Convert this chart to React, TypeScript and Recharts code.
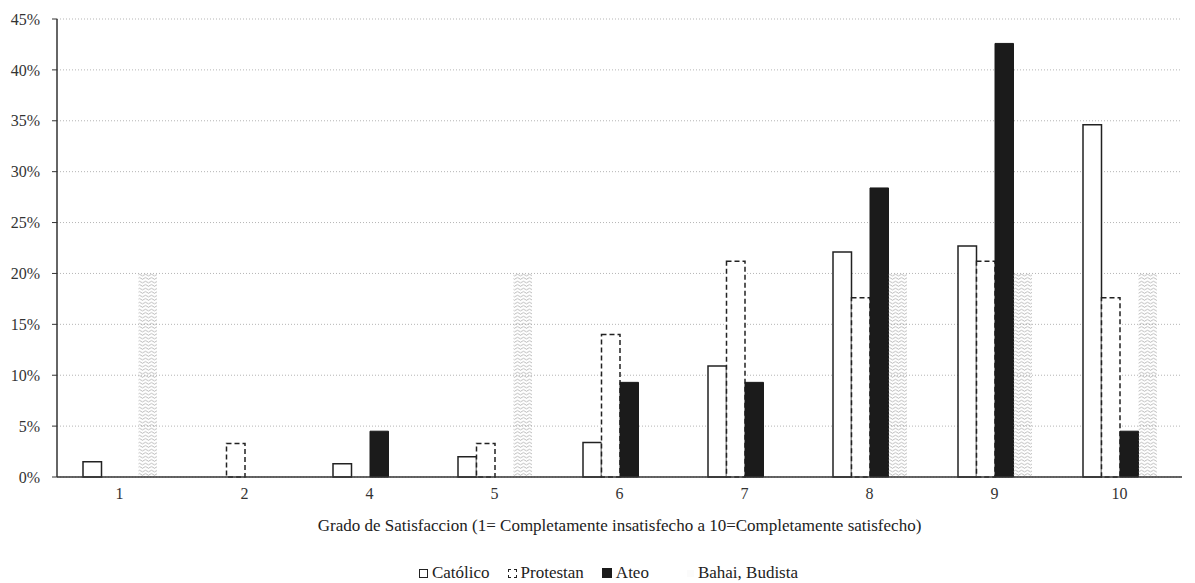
import { BarChart, Bar, XAxis, YAxis, CartesianGrid, Label } from "recharts";

const grados = ["1", "2", "4", "5", "6", "7", "8", "9", "10"];
const catolico = [1.5, 0, 1.3, 2.0, 3.4, 10.9, 22.1, 22.7, 34.6];
const protestan = [0, 3.3, 0, 3.3, 14.0, 21.2, 17.6, 21.2, 17.6];
const ateo = [0, 0, 4.5, 0, 9.3, 9.3, 28.4, 42.6, 4.5];
const bahai = [20, 0, 0, 20, 0, 0, 20, 20, 20];
const yTicks = [0, 5, 10, 15, 20, 25, 30, 35, 40, 45];

const chartData = grados.map((g, i) => ({
  grado: g,
  catolico: catolico[i],
  protestan: protestan[i],
  ateo: ateo[i],
  bahai: bahai[i],
}));

const FONT = "'Liberation Serif', 'DejaVu Serif', serif";

// stippled / wavy fill used for the Bahai, Budista bars
const BahaiShape = (props: any) => {
  const { x, y, width, height } = props;
  if (!height || height <= 0) return null;
  return (
    <g>
      <defs>
        <pattern id="bahaiWave" width="6" height="3.5" patternUnits="userSpaceOnUse">
          <path d="M0 2 Q1.5 0.3 3 2 T6 2" stroke="#a5a5a5" fill="none" strokeWidth="0.8" />
        </pattern>
      </defs>
      <rect x={x} y={y} width={width} height={height} fill="url(#bahaiWave)" />
    </g>
  );
};

function LegendRow() {
  const item = { display: "flex", alignItems: "center", marginRight: 18, lineHeight: "18px" } as const;
  const box = { width: 7, height: 7, display: "block", marginRight: 4, flex: "none" } as const;
  return (
    <div
      style={{
        position: "absolute",
        left: 40,
        top: 563,
        width: 1155,
        height: 20,
        display: "flex",
        justifyContent: "center",
        alignItems: "center",
        fontFamily: FONT,
        fontSize: 17,
        color: "#222",
      }}
    >
      <span style={item}>
        <span style={{ ...box, border: "1.5px solid #222", background: "#fff" }} />
        Católico
      </span>
      <span style={item}>
        <span style={{ ...box, border: "1.5px dashed #222", background: "#fff" }} />
        Protestan
      </span>
      <span style={item}>
        <span style={{ ...box, width: 10, height: 10, background: "#1b1b1b" }} />
        Ateo
      </span>
      <span style={{ ...item, marginLeft: 20 }}>
        <span style={{ ...box, background: "#fbfbfb" }} />
        Bahai, Budista
      </span>
    </div>
  );
}

export default function App() {
  return (
    <div style={{ position: "fixed", left: 0, top: 0, width: 1195, height: 583, background: "#fff" }}>
      <BarChart
        width={1195}
        height={583}
        data={chartData}
        margin={{ top: 19, right: 13, left: 0, bottom: 50 }}
        barSize={18.5}
        barGap={0}
      >
        <CartesianGrid vertical={false} stroke="#b5b5b5" strokeDasharray="1 2" />
        <XAxis
          dataKey="grado"
          height={56}
          tickLine={false}
          tickSize={0}
          tickMargin={11}
          axisLine={{ stroke: "#333", strokeWidth: 1.5 }}
          tick={{ fill: "#333", fontSize: 16, fontFamily: FONT }}
        >
          <Label
            value="Grado de Satisfaccion  (1= Completamente  insatisfecho  a  10=Completamente  satisfecho)"
            position="insideBottom"
            offset={2}
            style={{ fill: "#222", fontSize: 17, fontFamily: FONT }}
          />
        </XAxis>
        <YAxis
          width={57}
          domain={[0, 45]}
          ticks={yTicks}
          interval={0}
          tickFormatter={(v: number) => `${v}%`}
          tickSize={5}
          tickMargin={12}
          axisLine={{ stroke: "#333", strokeWidth: 1.5 }}
          tickLine={{ stroke: "#333" }}
          tick={{ fill: "#333", fontSize: 16, fontFamily: FONT }}
        />
        <Bar dataKey="catolico" fill="#fff" stroke="#222" strokeWidth={1.5} isAnimationActive={false} />
        <Bar
          dataKey="protestan"
          fill="#fff"
          stroke="#222"
          strokeWidth={1.5}
          strokeDasharray="5 3"
          isAnimationActive={false}
        />
        <Bar dataKey="ateo" fill="#1b1b1b" stroke="#1b1b1b" strokeWidth={1} isAnimationActive={false} />
        <Bar dataKey="bahai" fill="#ccc" shape={BahaiShape} isAnimationActive={false} />
      </BarChart>
      <LegendRow />
    </div>
  );
}
